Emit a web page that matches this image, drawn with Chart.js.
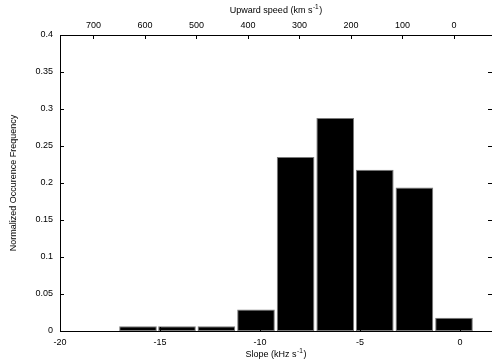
<!DOCTYPE html>
<html>
<head>
<meta charset="utf-8">
<script src="https://cdn.jsdelivr.net/npm/chart.js@4.4.1/dist/chart.umd.min.js"></script>
<style>
html, body { margin: 0; padding: 0; background: #fff; }
#wrap { width: 492px; height: 362px; }
</style>
</head>
<body>
<div id="wrap"><canvas id="slopeChart"></canvas></div>
<script>
// bin centres on the slope axis (kHz/s) and normalized frequency per bin
const slopeBins = [-16.1, -14.15, -12.18, -10.2, -8.22, -6.24, -4.26, -2.28, -0.3];
const frequency = [0.0065, 0.0065, 0.0065, 0.029, 0.235, 0.288, 0.218, 0.194, 0.018];

const slopeTicks = [-20, -15, -10, -5, 0];
const speedTicks = [700, 600, 500, 400, 300, 200, 100, 0];
const freqTicks = [0, 0.05, 0.1, 0.15, 0.2, 0.25, 0.3, 0.35, 0.4];

const fontFamily = 'Liberation Sans, Arial, sans-serif';
const tickFont = { family: fontFamily, size: 9 };

// gnuplot style: tick marks point into the plot
const innerTicks = {
    id: 'innerTicks',
    afterDatasetsDraw(chart) {
        const { ctx, chartArea: a, scales } = chart;
        const len = 4;
        ctx.save();
        ctx.strokeStyle = '#000';
        ctx.lineWidth = 1;
        ctx.beginPath();
        scales.x.ticks.forEach(t => {
            const px = Math.round(scales.x.getPixelForValue(t.value)) + 0.5;
            ctx.moveTo(px, a.bottom); ctx.lineTo(px, a.bottom - len);
        });
        scales.x2.ticks.forEach(t => {
            const px = Math.round(scales.x2.getPixelForValue(t.value)) + 0.5;
            ctx.moveTo(px, a.top); ctx.lineTo(px, a.top + len);
        });
        scales.y.ticks.forEach(t => {
            const py = Math.round(scales.y.getPixelForValue(t.value)) + 0.5;
            ctx.moveTo(a.left, py); ctx.lineTo(a.left + len, py);
            ctx.moveTo(a.right, py); ctx.lineTo(a.right - len, py);
        });
        ctx.stroke();
        ctx.restore();
    }
};

// axis titles with a real superscript for the units
function drawSupText(ctx, parts, cx, cy) {
    const big = '9px ' + fontFamily;
    const small = '6.5px ' + fontFamily;
    ctx.font = big;
    const w0 = ctx.measureText(parts[0]).width;
    const w2 = ctx.measureText(parts[2]).width;
    ctx.font = small;
    const w1 = ctx.measureText(parts[1]).width;
    let x = cx - (w0 + w1 + 1 + w2) / 2;
    ctx.textAlign = 'left';
    ctx.textBaseline = 'middle';
    ctx.fillStyle = '#000';
    ctx.font = big; ctx.fillText(parts[0], x, cy); x += w0 + 0.5;
    ctx.font = small; ctx.fillText(parts[1], x, cy - 3.5); x += w1 + 0.5;
    ctx.font = big; ctx.fillText(parts[2], x, cy);
}

const unitTitles = {
    id: 'unitTitles',
    afterDraw(chart) {
        const { ctx, chartArea: a } = chart;
        const cx = (a.left + a.right) / 2;
        ctx.save();
        drawSupText(ctx, ['Slope (kHz s', '-1', ')'], cx, 355);
        drawSupText(ctx, ['Upward speed (km s', '-1', ')'], cx, 11);
        ctx.restore();
    }
};

const keepTicks = list => scale => {
    scale.ticks = list.map(v => ({ value: v }));
};

const noGrid = { display: false, drawTicks: false, tickLength: 0 };

const ctx = document.getElementById('slopeChart').getContext('2d');
new Chart(ctx, {
    type: 'bar',
    data: {
        datasets: [{
            data: slopeBins.map((s, i) => ({ x: s, y: frequency[i] })),
            backgroundColor: '#000',
            borderColor: '#7a7a7a',
            borderWidth: 1,
            borderSkipped: false,
            barPercentage: 1,
            categoryPercentage: 0.965
        }]
    },
    plugins: [innerTicks, unitTitles],
    options: {
        responsive: true,
        maintainAspectRatio: false,
        animation: false,
        layout: { padding: { left: 0, right: 0, top: 0, bottom: 0 } },
        plugins: { legend: { display: false }, tooltip: { enabled: false } },
        scales: {
            x: {
                type: 'linear',
                position: 'bottom',
                min: -20,
                max: 1.6,
                offset: false,
                grid: noGrid,
                border: { display: true, color: '#000', width: 1 },
                afterBuildTicks: keepTicks(slopeTicks),
                afterFit: s => { s.height = 31; },
                ticks: { font: tickFont, color: '#000', padding: 6, maxRotation: 0 }
            },
            x2: {
                type: 'linear',
                position: 'top',
                reverse: true,
                min: -74,
                max: 765,
                offset: false,
                grid: noGrid,
                border: { display: true, color: '#000', width: 1 },
                afterBuildTicks: keepTicks(speedTicks),
                afterFit: s => { s.height = 35; },
                ticks: { font: tickFont, color: '#000', padding: 4, maxRotation: 0 }
            },
            y: {
                min: 0,
                max: 0.4,
                grid: noGrid,
                border: { display: true, color: '#000', width: 1 },
                afterBuildTicks: keepTicks(freqTicks),
                afterFit: s => { s.width = 60; },
                ticks: { font: tickFont, color: '#000', padding: 7, callback: v => String(+v.toFixed(2)) },
                title: { display: true, text: 'Normalized Occurence Frequency', font: tickFont, color: '#000', padding: { top: 8, bottom: 0 } }
            }
        }
    }
});
</script>
</body>
</html>
